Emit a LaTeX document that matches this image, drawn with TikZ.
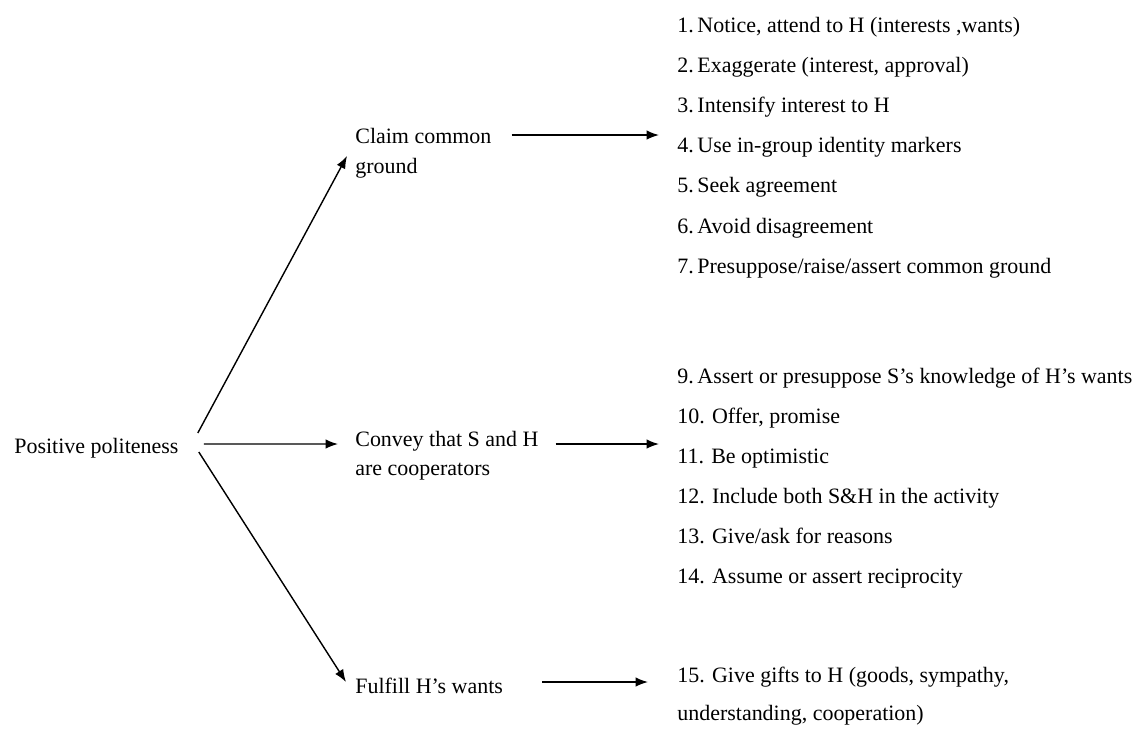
\documentclass[tikz,border=0pt]{standalone}
\usepackage{fontspec}
\setmainfont{Liberation Serif}
\usetikzlibrary{arrows.meta}

\begin{document}
\begin{tikzpicture}[
    x=0.02cm, y=-0.02cm,
    >={Latex[length=0.25cm,width=0.19cm]},
    every node/.style={font=\fontsize{12.5}{15}\selectfont, inner sep=0pt},
    item/.style={anchor=base west},
    branch/.style={anchor=base west, align=left, font=\fontsize{12.5}{17}\selectfont},
    link/.style={->, thick}
]
\useasboundingbox (0,0) rectangle (1134,731);
\node[item] (pos) at (14,453) {Positive politeness};
\node[branch] (claim) at (355,173) {Claim common\\ground};
\node[branch, font=\fontsize{12.5}{16}\selectfont] (convey) at (355,475) {Convey that S and H\\are cooperators};
\node[item] (fulfill) at (355,693) {Fulfill H’s wants};
% strategies
\foreach \txt [count=\i] in {{1.\,Notice, attend to H (interests ,wants)}, {2.\,Exaggerate (interest, approval)}, {3.\,Intensify interest to H}, {4.\,Use in-group identity markers}, {5.\,Seek agreement}, {6.\,Avoid disagreement}, {7.\,Presuppose/raise/assert common ground}}
    \node[item] (cg\i) at (677,{32+40.2*(\i-1)}) {\txt};
\foreach \txt [count=\i] in {{9.\,Assert or presuppose S’s knowledge of H’s wants}, {10. Offer, promise}, {11. Be optimistic}, {12. Include both S\&H in the activity}, {13. Give/ask for reasons}, {14. Assume or assert reciprocity}}
    \node[item] (co\i) at (677,{383+40*(\i-1)}) {\txt};
\node[branch, font=\fontsize{12.5}{21.6}\selectfont] (gift) at (677,720) {15. Give gifts to H (goods, sympathy,\\understanding, cooperation)};
\draw[link] ([xshift=0.38cm,yshift=0.4cm]pos.base east) -- ([xshift=-0.16cm,yshift=0.34cm]claim.base west);
\draw[link] ([xshift=0.5cm,yshift=0.18cm]pos.base east) -- ([xshift=-0.34cm,yshift=0.62cm]convey.base west);
\draw[link] ([xshift=0.4cm,yshift=0.02cm]pos.base east) -- ([xshift=-0.18cm,yshift=0.22cm]fulfill.base west);
\draw[link] ([xshift=0.4cm,yshift=0.76cm]claim.base east) -- ([xshift=-0.36cm,yshift=0.76cm]claim.base east -| cg1.west);
\draw[link] ([xshift=0.34cm,yshift=0.62cm]convey.base east) -- ([xshift=-0.36cm,yshift=0.62cm]convey.base east -| co1.west);
\draw[link] ([xshift=0.78cm,yshift=0.22cm]fulfill.base east) -- ([xshift=-0.58cm,yshift=0.22cm]fulfill.base east -| gift.west);
\end{tikzpicture}
\end{document}
